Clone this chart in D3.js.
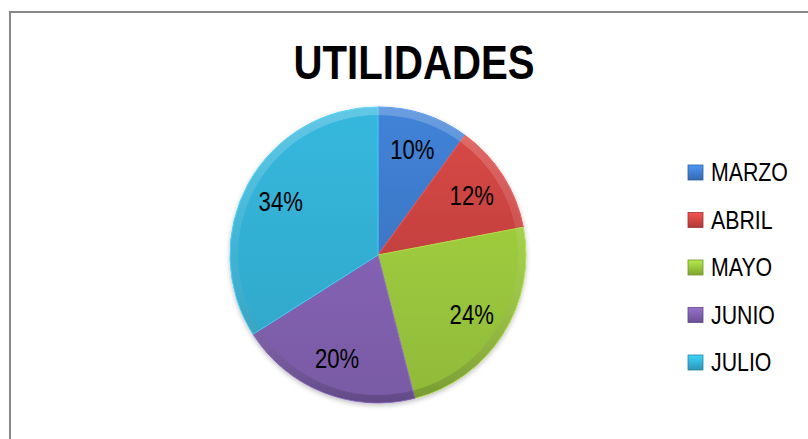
<!DOCTYPE html>
<html>
<head>
<meta charset="utf-8">
<script src="https://cdn.jsdelivr.net/npm/d3@7"></script>
<style>
  html, body { margin: 0; padding: 0; background: #fff; }
  svg { display: block; }
  text { font-family: "Liberation Sans Narrow", "Arial Narrow", "Liberation Sans", sans-serif; }
</style>
</head>
<body>
<script>
const title = "UTILIDADES";
const categories = ["MARZO", "ABRIL", "MAYO", "JUNIO", "JULIO"];
const values = [10, 12, 24, 20, 34];
const colors = ["#3f7ed0", "#cf4543", "#98c43c", "#7f5fad", "#34b2d6"];

const W = 808, H = 439;
const NARROW = 0.82;
const svg = d3.select("body").append("svg").attr("width", W).attr("height", H);
const defs = svg.append("defs");

// chart border
svg.append("path")
  .attr("d", `M10,${H + 5} L10,12 L${W + 5},12`)
  .attr("fill", "none").attr("stroke", "#878787").attr("stroke-width", 2);

// title
svg.append("g").attr("transform", `translate(414,79) scale(${NARROW},1)`)
  .append("text")
  .attr("text-anchor", "middle")
  .attr("font-size", 49).attr("font-weight", "bold")
  .attr("fill", "#000")
  .text(title);

const cx = 378, cy = 255, R = 148;
const total = d3.sum(values);
const pie = d3.pie().sort(null).value(d => d.v);
const data = pie(categories.map((c, i) => ({ c, v: values[i], col: colors[i] })));
const arc = d3.arc().innerRadius(0).outerRadius(R);
const labelArc = d3.arc().innerRadius(R * 0.75).outerRadius(R * 0.75);
const rim = d3.arc().innerRadius(R - 8).outerRadius(R);

data.forEach((d, i) => {
  const g = defs.append("linearGradient").attr("id", "g" + i)
    .attr("x1", 0).attr("y1", 0).attr("x2", 0).attr("y2", 1);
  const c = d3.color(d.data.col);
  g.append("stop").attr("offset", "0%").attr("stop-color", c.brighter(0.1));
  g.append("stop").attr("offset", "100%").attr("stop-color", c.darker(0.15));
});
const rg = defs.append("linearGradient").attr("id", "rimg")
  .attr("gradientUnits", "userSpaceOnUse")
  .attr("x1", 0).attr("y1", -R).attr("x2", 0).attr("y2", R);
rg.append("stop").attr("offset", "0%").attr("stop-color", "#fff").attr("stop-opacity", 0.22);
rg.append("stop").attr("offset", "50%").attr("stop-color", "#fff").attr("stop-opacity", 0.06);
rg.append("stop").attr("offset", "100%").attr("stop-color", "#000").attr("stop-opacity", 0.18);

const f = defs.append("filter").attr("id", "sh").attr("x", "-20%").attr("y", "-20%").attr("width", "140%").attr("height", "140%");
f.append("feGaussianBlur").attr("in", "SourceAlpha").attr("stdDeviation", 2.5);
f.append("feOffset").attr("dx", 0).attr("dy", 2).attr("result", "b");
f.append("feComponentTransfer").append("feFuncA").attr("type", "linear").attr("slope", 0.25);
const fm = f.append("feMerge");
fm.append("feMergeNode");
fm.append("feMergeNode").attr("in", "SourceGraphic");

const g = svg.append("g").attr("transform", `translate(${cx},${cy})`);
const slices = g.append("g").attr("filter", "url(#sh)");
slices.selectAll("path.s").data(data).join("path")
  .attr("class", "s")
  .attr("d", arc)
  .attr("fill", (d, i) => `url(#g${i})`)
  .attr("stroke", d => d3.color(d.data.col).brighter(0.4))
  .attr("stroke-width", 1);
slices.selectAll("path.r").data(data).join("path")
  .attr("class", "r")
  .attr("d", rim)
  .attr("fill", "url(#rimg)");

g.selectAll("g.l").data(data).join("g")
  .attr("class", "l")
  .attr("transform", d => `translate(${labelArc.centroid(d)}) scale(${NARROW},1)`)
  .append("text")
  .attr("text-anchor", "middle")
  .attr("dy", "0.36em")
  .attr("font-size", 27)
  .attr("fill", "#000")
  .text(d => Math.round(d.data.v / total * 100) + "%");

// legend
const ly = d3.scalePoint().domain(categories).range([172, 362]);
const leg = svg.append("g").selectAll("g").data(categories).join("g")
  .attr("transform", d => `translate(688,${ly(d)})`);
categories.forEach((c, i) => {
  const lg = defs.append("linearGradient").attr("id", "lg" + i)
    .attr("x1", 0).attr("y1", 0).attr("x2", 0).attr("y2", 1);
  const col = d3.color(colors[i]);
  lg.append("stop").attr("offset", "0%").attr("stop-color", col.brighter(0.5));
  lg.append("stop").attr("offset", "100%").attr("stop-color", col.darker(0.5));
});
leg.append("rect")
  .attr("x", 0).attr("y", -7).attr("width", 15).attr("height", 15)
  .attr("fill", (d, i) => `url(#lg${i})`)
  .attr("stroke", (d, i) => d3.color(colors[i]).darker(0.8))
  .attr("stroke-width", 0.8);
leg.append("g").attr("transform", `translate(23,0) scale(${NARROW},1)`)
  .append("text")
  .attr("dy", "0.36em")
  .attr("font-size", 26)
  .attr("fill", "#000")
  .text(d => d);
</script>
</body>
</html>
